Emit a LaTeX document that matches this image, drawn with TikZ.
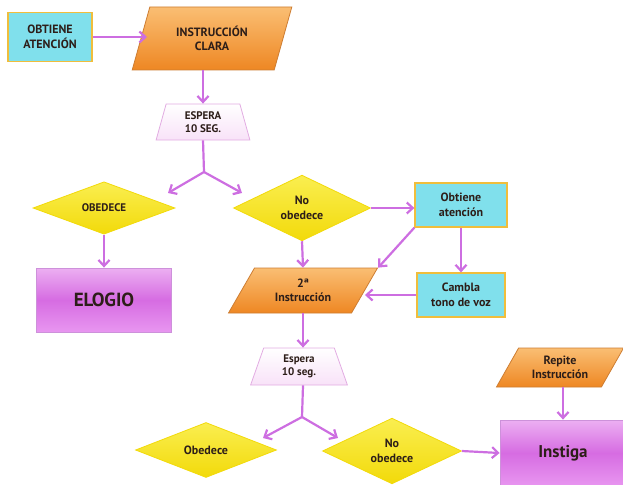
\documentclass[tikz,border=0pt]{standalone}
\usepackage{fontspec}
\setmainfont{PT Sans}
\usetikzlibrary{shapes.geometric,arrows.meta,shadings}

\definecolor{arrowc}{RGB}{205,110,225}
\definecolor{cyanfill}{RGB}{128,224,236}
\definecolor{cyanedge}{RGB}{240,190,60}
\definecolor{orangetop}{RGB}{250,190,115}
\definecolor{orangebot}{RGB}{238,135,35}
\definecolor{orangeedge}{RGB}{205,125,50}
\definecolor{yellowtop}{RGB}{250,238,80}
\definecolor{yellowbot}{RGB}{242,218,10}
\definecolor{violettop}{RGB}{236,175,242}
\definecolor{violetmid}{RGB}{214,108,226}
\definecolor{violetbot}{RGB}{232,150,240}
\definecolor{violetedge}{RGB}{205,145,218}
\definecolor{waitbot}{RGB}{248,226,248}
\definecolor{waitedge}{RGB}{226,172,226}
\definecolor{ink}{RGB}{45,30,25}

\tikzset{
  base/.style={font=\bfseries\fontsize{12}{14.5}\selectfont, text=ink, align=center, inner sep=0pt, line width=0.8pt},
  attn/.style={base, rectangle, fill=cyanfill, draw=cyanedge, line width=1.2pt},
  instr/.style={base, trapezium, trapezium stretches=true, top color=orangetop, bottom color=orangebot, draw=orangeedge},
  wait/.style={base, trapezium, trapezium stretches=true, top color=white, bottom color=waitbot, draw=waitedge},
  choice/.style={base, diamond, top color=yellowtop, bottom color=yellowbot, draw=yellowbot},
  result/.style={base, rectangle, top color=violettop, bottom color=violetbot, middle color=violetmid, draw=violetedge, font=\bfseries\fontsize{19}{22}\selectfont},
  arr/.style={draw=arrowc, line width=2.2pt, -{Straight Barb[length=6pt,width=11pt]}},
  link/.style={draw=arrowc, line width=2.2pt},
}

\begin{document}
\begin{tikzpicture}[x=1pt,y=-1pt]
\useasboundingbox (0,0) rectangle (623,484);

% first instruction
\node[attn, minimum width=84, minimum height=49] (obt1) at (50,37) {OBTIENE\\ATENCIÓN};
\node[instr, minimum width=161, minimum height=63, trapezium left angle=68, trapezium right angle=112] (instr1) at (212,38.5) {INSTRUCCIÓN\\CLARA};
\node[wait, minimum width=94, minimum height=36, trapezium left angle=77, trapezium right angle=77, font=\bfseries\fontsize{11}{13.5}\selectfont] (esp1) at (203,122) {ESPERA\\10 SEG.};

\node[choice, minimum width=142, minimum height=50, font=\bfseries\fontsize{11}{13}\selectfont] (obed1) at (104,208) {OBEDECE};
\node[result, minimum width=135, minimum height=64] (elogio) at (104,300) {ELOGIO};
\node[choice, minimum width=137, minimum height=49] (noobed1) at (302,208) {No\\obedece};

% second instruction
\node[attn, minimum width=92, minimum height=44] (obt2) at (461,205) {Obtiene\\atención};
\node[attn, minimum width=88, minimum height=44] (camb) at (461,295) {Cambla\\tono de voz};
\node[instr, minimum width=150, minimum height=45, trapezium left angle=57, trapezium right angle=123] (instr2) at (303,290.5) {2ª\\Instrucción};
\node[wait, minimum width=97, minimum height=37, trapezium left angle=75, trapezium right angle=75, font=\bfseries\fontsize{11}{13.5}\selectfont] (esp2) at (299,366.5) {Espera\\10 seg.};

\node[choice, minimum width=141, minimum height=55] (obed2) at (206,450) {Obedece};
\node[choice, minimum width=139, minimum height=58] (noobed2) at (392,451) {No\\obedece};
\node[result, minimum width=126, minimum height=66, font=\bfseries\fontsize{17}{20}\selectfont] (instiga) at (563,453) {Instiga};
\node[instr, minimum width=128, minimum height=39, trapezium left angle=57, trapezium right angle=123] (repite) at (560,367.5) {Repite\\Instrucción};

% branch points
\coordinate (fork1) at (204,172);
\coordinate (f1l) at (168,193);
\coordinate (f1r) at (242,193);
\coordinate (fork2) at (302,417);
\coordinate (f2l) at (263,438);
\coordinate (f2r) at (338,438);

% connectors
\draw[arr] (obt1.east) -- (obt1.east -| 147,0);
\draw[arr] (esp1.north |- instr1.south) -- (esp1.north);
\draw[link] (esp1.south) -- (fork1);
\draw[arr] (fork1) -- (f1l);
\draw[arr] (fork1) -- (f1r);
\draw[arr] (obed1.south) -- (elogio.north);
\draw[arr] (noobed1.east) -- (noobed1.east -| obt2.west);
\draw[arr] (obt2.south) -- (camb.north);
\draw[arr] (obt2.south west) -- (instr2.top right corner);
\draw[arr] (camb.west) -- (instr2.east |- camb.west);
\draw[arr] (noobed1.south) -- (instr2.north);
\draw[arr] (instr2.south) -- (instr2.south |- esp2.north);
\draw[link] (instr2.south |- esp2.south) -- (fork2);
\draw[arr] (fork2) -- (f2l);
\draw[arr] (fork2) -- (f2r);
\draw[arr] (noobed2.east) -- (instiga.west);
\draw[arr] (repite.south -| instiga.north) -- (instiga.north);
\end{tikzpicture}
\end{document}
